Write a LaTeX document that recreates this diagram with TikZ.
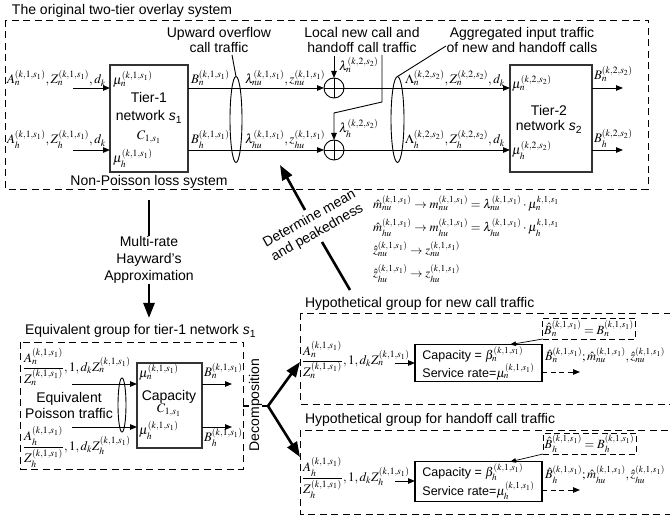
\documentclass[tikz,border=0pt]{standalone}
\usepackage{amsmath}
\usepackage{mathptmx}
\usepackage[no-math]{fontspec}
\setmainfont{Liberation Sans}
\usetikzlibrary{arrows.meta,shapes.geometric,calc}
\begin{document}
\begin{tikzpicture}[x=1pt,y=-1pt,
  font=\fontsize{14}{16}\selectfont,
  every node/.style={inner sep=0pt, outer sep=0pt},
  ml/.style={font=\fontsize{13}{15}\selectfont},
  mls/.style={font=\fontsize{12.5}{14}\selectfont},
  lbl/.style={font=\fontsize{14}{16}\selectfont, align=center},
  smalltxt/.style={font=\fontsize{12.5}{13.5}\selectfont},
  thinline/.style={line width=0.9pt},
  arr/.style={line width=0.9pt, -{Triangle[length=7pt,width=5.5pt]}},
  darr/.style={line width=0.9pt, dash pattern=on 5pt off 3.5pt, -{Triangle[length=7pt,width=5.5pt]}},
  ptrarr/.style={line width=0.7pt, -{Triangle[length=6pt,width=4.5pt]}},
  bigarr/.style={line width=2.6pt, -{Triangle[length=15pt,width=11pt]}},
  bigline/.style={line width=2.6pt},
  dashbox/.style={line width=0.9pt, dash pattern=on 7pt off 4.5pt},
  netbox/.style={draw=black!80, line width=1.2pt},
  oval/.style={ellipse, draw, line width=0.9pt},
  sumnode/.style={circle, draw, line width=0.9pt, minimum size=20pt},
  capbox/.style={draw, line width=1.1pt, smalltxt, align=left, minimum width=127pt, inner xsep=2pt, inner ysep=1.5pt},
  smallbox/.style={draw, mls, line width=0.9pt, dash pattern=on 6pt off 3.5pt, inner xsep=1.5pt, inner ysep=1.5pt},
]
\useasboundingbox (0,0) rectangle (670,518);

% ---------------- top: original two-tier system ----------------
\node[lbl, anchor=base west] (title) at (12,15) {The original two-tier overlay system};
\draw[dashbox] (5,20) rectangle (648,189);

\coordinate (r1) at (0,88);
\coordinate (r2) at (0,150);

% tier-1
\node[netbox, minimum width=78pt, minimum height=107pt] (t1) at (149,118.5) {};
\node[ml, anchor=base west] (t1mun) at (113,85) {$\mu_n^{(k,1,s_1)}$};
\node[lbl] (t1a) at (149,98) {Tier-1};
\node[lbl] (t1b) at (149,117) {network \textit{s}\textsubscript{1}};
\node[ml] (t1c) at (149,137) {$C_{1,s_1}$};
\node[ml, anchor=base west] (t1muh) at (113,163) {$\mu_h^{(k,1,s_1)}$};

% inputs
\node[ml, anchor=base west] (inN) at (7,84) {$A_n^{(k,1,s_1)}, Z_n^{(k,1,s_1)}, d_k$};
\node[ml, anchor=base west] (inH) at (7,144) {$A_h^{(k,1,s_1)}, Z_h^{(k,1,s_1)}, d_k$};
\coordinate (s1) at (73,88);
\coordinate (s2) at (73,150);
\draw[arr] (s1) -- (r1 -| t1.west);
\draw[arr] (s2) -- (r2 -| t1.west);

% summation circles
\node[sumnode] (c1) at (334,88) {};
\node[sumnode] (c2) at (334,150) {};
\draw[thinline] (c1.north) -- (c1.south) (c1.west) -- (c1.east);
\draw[thinline] (c2.north) -- (c2.south) (c2.west) -- (c2.east);

\draw[arr] (r1 -| t1.east) -- (c1.west);
\draw[arr] (r2 -| t1.east) -- (c2.west);
\node[ml, anchor=base west] (bn1) at (191,84) {$B_n^{(k,1,s_1)}$};
\node[ml, anchor=base west] (ln1) at (245,84) {$\lambda_{nu}^{(k,1,s_1)}, z_{nu}^{(k,1,s_1)}$};
\node[ml, anchor=base west] (bh1) at (191,144) {$B_h^{(k,1,s_1)}$};
\node[ml, anchor=base west] (lh1) at (245,144) {$\lambda_{hu}^{(k,1,s_1)}, z_{hu}^{(k,1,s_1)}$};

% overflow ellipse
\node[oval, minimum width=12pt, minimum height=86pt] (e1) at (236,119.5) {};
\node[lbl] (upw) at (219,40) {Upward overflow\\call traffic};
\coordinate (p1) at (232,55);
\draw[thinline] (p1) -- (e1.north);

% local traffic
\node[lbl] (loc) at (362,40) {Local new call and\\handoff call traffic};
\coordinate (f1) at (334,56);
\coordinate (f2a) at (382,55);
\coordinate (f2b) at (382,102);
\coordinate (f2c) at (334,113);
\draw[arr] (f1) -- (c1.north);
\draw[arr] (f2a) -- (f2b) -- (f2c) -- (c2.north);
\node[ml, anchor=base west] (lamn) at (339,71) {$\lambda_n^{(k,2,s_2)}$};
\node[ml, anchor=base west] (lamh) at (339,133) {$\lambda_h^{(k,2,s_2)}$};

% aggregated ellipse
\node[oval, minimum width=13pt, minimum height=86pt] (e2) at (397.5,119.5) {};
\node[lbl] (agg) at (522,40) {Aggregated input traffic\\of new and handoff calls};
\coordinate (p2) at (446,46);
\draw[thinline] (p2) -- (e2.north);

% tier-2
\node[netbox, minimum width=82pt, minimum height=107pt] (t2) at (551,118.5) {};
\node[ml, anchor=base west] (t2mun) at (512,89) {$\mu_n^{(k,2,s_2)}$};
\node[lbl] (t2a) at (549,110) {Tier-2};
\node[lbl] (t2b) at (549,127) {network \textit{s}\textsubscript{2}};
\node[ml, anchor=base west] (t2muh) at (512,155) {$\mu_h^{(k,2,s_2)}$};

\draw[arr] (c1.east) -- (r1 -| t2.west);
\draw[arr] (c2.east) -- (r2 -| t2.west);
\node[ml, anchor=base west] (agn) at (405,84) {$\Lambda_n^{(k,2,s_2)}, Z_n^{(k,2,s_2)}, d_k$};
\node[ml, anchor=base west] (agh) at (405,144) {$\Lambda_h^{(k,2,s_2)}, Z_h^{(k,2,s_2)}, d_k$};

\coordinate (o1) at (623,88);
\coordinate (o2) at (623,150);
\draw[arr] (r1 -| t2.east) -- (o1);
\draw[arr] (r2 -| t2.east) -- (o2);
\node[ml, anchor=base west] (bn2) at (594,80) {$B_n^{(k,2,s_2)}$};
\node[ml, anchor=base west] (bh2) at (594,143) {$B_h^{(k,2,s_2)}$};

\node[lbl] (np) at (149,182) {Non-Poisson loss system};

% ---------------- Hayward arrow ----------------
\node[lbl, font=\fontsize{14}{17}\selectfont] (hay) at (149,260) {Multi-rate\\Hayward’s\\Approximation};
\coordinate (h1) at (149,200);
\coordinate (h2) at (149,318);
\draw[bigline] (h1) -- (hay.north);
\draw[bigarr] (hay.south) -- (h2);

% ---------------- Determine mean arrow ----------------
\coordinate (dA) at (350,290);
\coordinate (dB) at (322,242);
\coordinate (dC) at (305,210);
\coordinate (dD) at (280,165);
\draw[bigline] (dA) -- (dB);
\draw[bigarr] (dC) -- (dD);
\node[lbl, rotate=29.25] (det) at (313.5,226) {Determine mean\\and peakedness};

% formulas
\node[mls, anchor=base west] (fm1) at (373,209) {$\hat m_{nu}^{(k,1,s_1)} \rightarrow m_{nu}^{(k,1,s_1)} = \lambda_{nu}^{(k,1,s_1)}\cdot \mu_n^{k,1,s_1}$};
\node[mls, anchor=base west] (fm2) at (373,232) {$\hat m_{hu}^{(k,1,s_1)} \rightarrow m_{hu}^{(k,1,s_1)} = \lambda_{hu}^{(k,1,s_1)}\cdot \mu_h^{k,1,s_1}$};
\node[mls, anchor=base west] (fm3) at (373,255) {$\hat z_{nu}^{(k,1,s_1)} \rightarrow z_{nu}^{(k,1,s_1)}$};
\node[mls, anchor=base west] (fm4) at (373,278) {$\hat z_{hu}^{(k,1,s_1)} \rightarrow z_{hu}^{(k,1,s_1)}$};

% ---------------- equivalent group ----------------
\node[lbl, anchor=base west] (eqt) at (25,335) {Equivalent group for tier-1 network \textit{s}\textsubscript{1}};
\draw[dashbox] (20,342) rectangle (243,469);
\node[netbox, minimum width=65pt, minimum height=85pt] (cap) at (169.5,405.5) {};
\node[ml, anchor=base west] (capmun) at (139,378) {$\mu_n^{(k,1,s_1)}$};
\node[lbl] (capt) at (169,397) {Capacity};
\node[ml] (capc) at (169,410) {$C_{1,s_1}$};
\node[ml, anchor=base west] (capmuh) at (139,435) {$\mu_h^{(k,1,s_1)}$};

\node[ml, anchor=west] (eqN) at (23,367) {$\dfrac{A_n^{(k,1,s_1)}}{Z_n^{(k,1,s_1)}},1,d_kZ_n^{(k,1,s_1)}$};
\node[ml, anchor=west] (eqH) at (23,447) {$\dfrac{A_h^{(k,1,s_1)}}{Z_h^{(k,1,s_1)}},1,d_kZ_h^{(k,1,s_1)}$};
\coordinate (q1) at (72,384);
\coordinate (q2) at (72,427);
\draw[arr] (q1) -- (q1 -| cap.west);
\draw[arr] (q2) -- (q2 -| cap.west);
\node[oval, minimum width=8pt, minimum height=54pt] (e3) at (122,405) {};
\node[lbl] (eqp) at (69,405) {Equivalent\\Poisson traffic};

\coordinate (u1) at (232,384);
\coordinate (u2) at (232,427);
\draw[arr] (q1 -| cap.east) -- (u1);
\draw[arr] (q2 -| cap.east) -- (u2);
\node[ml, anchor=base west] (eqbn) at (204,377) {$B_n^{(k,1,s_1)}$};
\node[ml, anchor=base west] (eqbh) at (204,442) {$B_h^{(k,1,s_1)}$};

% ---------------- decomposition ----------------
\coordinate (dd0) at (243,406);
\coordinate (br) at (268,406);
\coordinate (hA) at (300,362);
\coordinate (hB) at (300,457);
\draw[bigline] (dd0) -- (br);
\node[lbl, rotate=90, fill=white] (dec) at (255.5,405) {Decomposition};
\draw[bigarr] (br) -- (hA);
\draw[bigarr] (br) -- (hB);

% ---------------- hypothetical group: new calls ----------------
\node[lbl, anchor=base west] (hnt) at (305,308) {Hypothetical group for new call traffic};
\draw[dashbox] (300,313) rectangle (676,404);
\node[ml, anchor=west] (hN) at (302,360) {$\dfrac{A_n^{(k,1,s_1)}}{Z_n^{(k,1,s_1)}},1,d_kZ_n^{(k,1,s_1)}$};
\node[capbox, minimum height=29pt] (capN) at (478.5,363) {Capacity = $\beta_n^{(k,1,s_1)}$\\Service rate=$\mu_n^{(k,1,s_1)}$};
\coordinate (hi1) at (395,363);
\draw[arr] (hi1) -- (hi1 -| capN.west);
\node[smallbox, minimum width=92pt, minimum height=21pt] (bhN) at (589,328.5) {$\hat B_n^{(k,1,s_1)} = B_n^{(k,1,s_1)}$};
\draw[ptrarr] (bhN.south west) -- ([xshift=31.5pt]capN.north);
\coordinate (ho1) at (580,372);
\draw[darr] (ho1 -| capN.east) -- (ho1);
\node[mls, anchor=base west] (hnout) at (545,361) {$\hat B_n^{(k,1,s_1)}; \hat m_{nu}^{(k,1,s_1)}, \hat z_{nu}^{(k,1,s_1)}$};

% ---------------- hypothetical group: handoff calls ----------------
\node[lbl, anchor=base west] (hht) at (305,424) {Hypothetical group for handoff call traffic};
\draw[dashbox] (300,430) rectangle (676,514);
\node[ml, anchor=west] (hH) at (302,478) {$\dfrac{A_h^{(k,1,s_1)}}{Z_h^{(k,1,s_1)}},1,d_kZ_h^{(k,1,s_1)}$};
\node[capbox, minimum height=29pt] (capH) at (478.5,481.5) {Capacity = $\beta_h^{(k,1,s_1)}$\\Service rate=$\mu_h^{(k,1,s_1)}$};
\coordinate (hi2) at (395,481);
\draw[arr] (hi2) -- (hi2 -| capH.west);
\node[smallbox, minimum width=93pt, minimum height=21pt] (bhH) at (589.5,443.5) {$\hat B_h^{(k,1,s_1)} = B_h^{(k,1,s_1)}$};
\draw[ptrarr] (bhH.south west) -- ([xshift=31.5pt]capH.north);
\coordinate (ho2) at (580,490);
\draw[darr] (ho2 -| capH.east) -- (ho2);
\node[mls, anchor=base west] (hhout) at (545,479) {$\hat B_h^{(k,1,s_1)}; \hat m_{hu}^{(k,1,s_1)}, \hat z_{hu}^{(k,1,s_1)}$};
\end{tikzpicture}
\end{document}
